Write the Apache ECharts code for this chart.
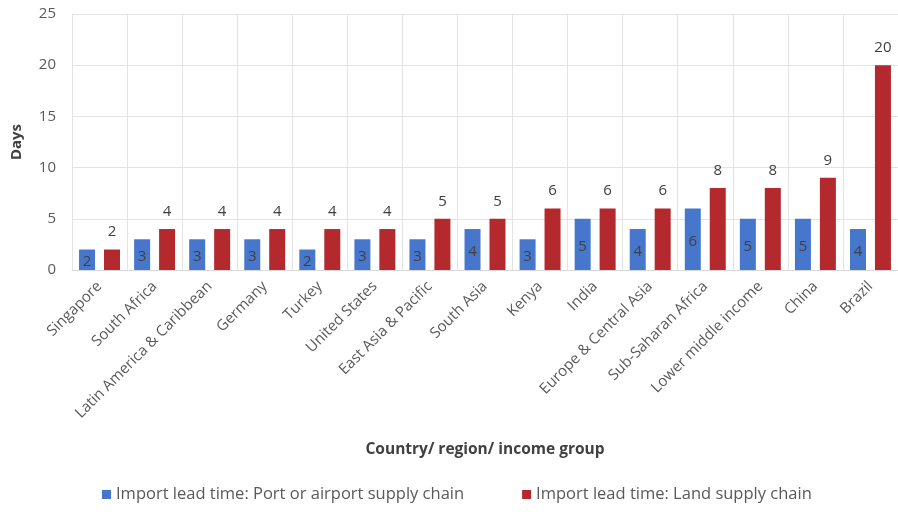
<!DOCTYPE html>
<html>
<head>
<meta charset="utf-8">
<script src="https://cdn.jsdelivr.net/npm/echarts@6/dist/echarts.min.js"></script>
<style>
  html, body { margin: 0; padding: 0; background: #fff; }
  #chart { width: 898px; height: 512px; }
</style>
</head>
<body>
<div id="chart"></div>
<script>
// Import lead times (days) by country / region / income group
const categories = [
  'Singapore', 'South Africa', 'Latin America & Caribbean', 'Germany', 'Turkey',
  'United States', 'East Asia & Pacific', 'South Asia', 'Kenya', 'India',
  'Europe & Central Asia', 'Sub-Saharan Africa', 'Lower middle income', 'China', 'Brazil'
];
const portAirport = [2, 3, 3, 3, 2, 3, 3, 4, 3, 5, 4, 6, 5, 5, 4];
const landChain   = [2, 4, 4, 4, 4, 4, 5, 5, 6, 6, 6, 8, 8, 9, 20];
const seriesNames = [
  'Import lead time: Port or airport supply chain',
  'Import lead time: Land supply chain'
];
const yTicks = { min: 0, max: 25, interval: 5 };

const font = 'Open Sans, Liberation Sans, sans-serif';
const chart = echarts.init(document.getElementById('chart'));
chart.setOption({
  animation: false,
  textStyle: { fontFamily: font },
  grid: { left: 72, right: -4, top: 14, bottom: 242 },
  legend: {
    bottom: 4,
    left: 97,
    itemWidth: 9,
    itemHeight: 9,
    itemGap: 58,
    icon: 'rect',
    textStyle: { fontSize: 16.5, color: '#595959', fontFamily: font },
    data: seriesNames
  },
  xAxis: {
    type: 'category',
    data: categories,
    name: 'Country/ region/ income group',
    nameLocation: 'middle',
    nameGap: 172,
    nameTextStyle: { fontSize: 15.5, fontWeight: 'bold', color: '#404040' },
    axisLine: { show: true, lineStyle: { color: '#d9d9d9' } },
    axisTick: { show: false },
    splitLine: { show: true, lineStyle: { color: '#e3e3e3' } },
    axisLabel: { rotate: 45, fontSize: 15, color: '#595959', margin: 14, interval: 0 }
  },
  yAxis: {
    type: 'value',
    min: yTicks.min,
    max: yTicks.max,
    interval: yTicks.interval,
    name: 'Days',
    nameLocation: 'middle',
    nameGap: 48,
    nameRotate: 90,
    nameTextStyle: { fontSize: 15, fontWeight: 'bold', color: '#404040' },
    axisLine: { show: false },
    axisTick: { show: false },
    splitLine: { lineStyle: { color: '#e3e3e3' } },
    axisLabel: { fontSize: 15, color: '#595959', margin: 16 }
  },
  series: [
    {
      name: seriesNames[0],
      type: 'bar',
      data: portAirport,
      barWidth: 16,
      barGap: '56%',
      itemStyle: { color: '#4677cc' },
      label: { show: true, position: 'inside', offset: [0, 2], fontSize: 15, color: '#404040' }
    },
    {
      name: seriesNames[1],
      type: 'bar',
      data: landChain,
      barWidth: 16,
      itemStyle: { color: '#b3292d' },
      label: { show: true, position: 'top', distance: 10, fontSize: 15, color: '#404040' }
    }
  ]
});
</script>
</body>
</html>
